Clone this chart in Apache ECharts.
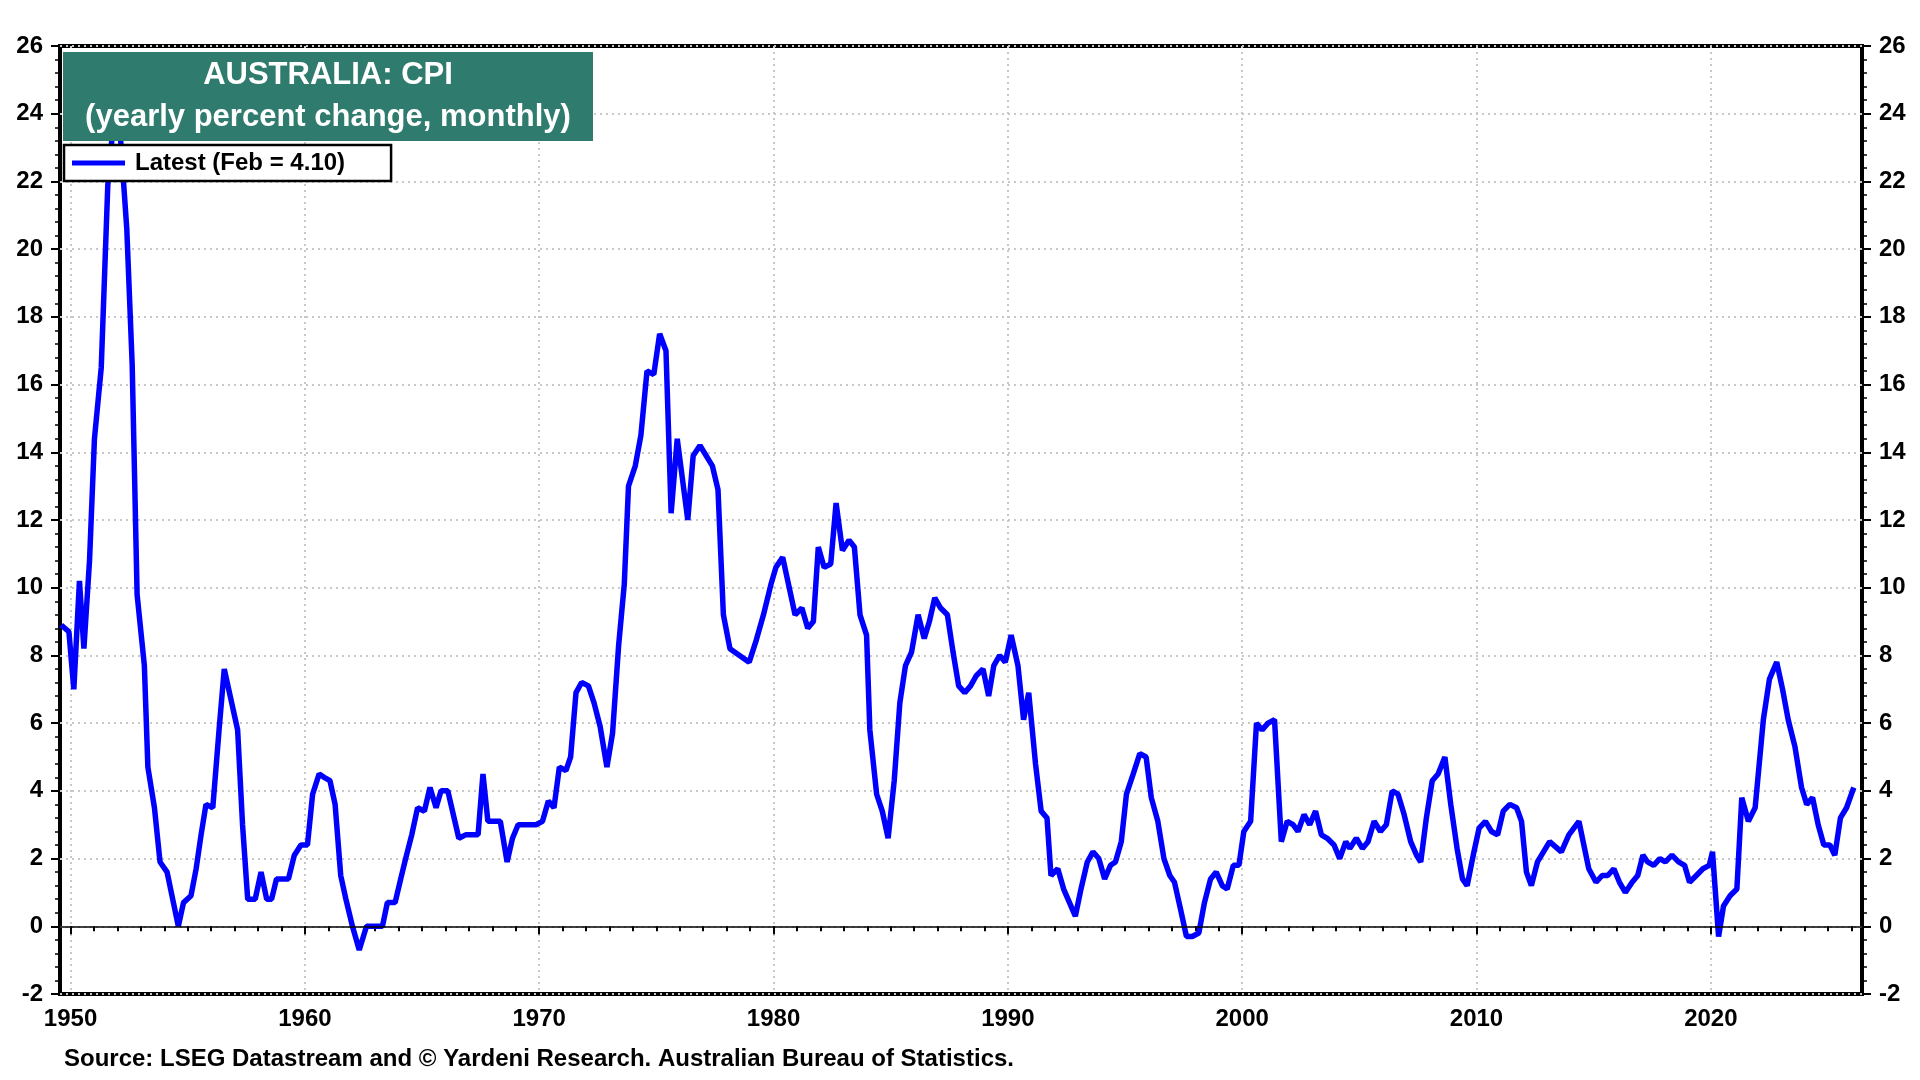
<!DOCTYPE html>
<html>
<head>
<meta charset="utf-8">
<title>Australia CPI</title>
<script src="https://cdn.jsdelivr.net/npm/echarts@6/dist/echarts.min.js"></script>
<style>
	html, body { margin: 0; padding: 0; background: #fff; }
	#chart { width: 1920px; height: 1080px; }
</style>
</head>
<body>
<div id="chart"></div>
<script>
// CPI, yearly percent change
var years = [
	1949.60, 1949.93, 1950.14, 1950.38, 1950.57, 1950.81, 1951.02, 1951.31, 1951.59, 1951.85,
	1952.10, 1952.40, 1952.63, 1952.84, 1953.15, 1953.30, 1953.58, 1953.82, 1954.12, 1954.36,
	1954.60, 1954.82, 1955.14, 1955.36, 1955.57, 1955.78, 1956.07, 1956.35, 1956.56, 1957.13,
	1957.34, 1957.56, 1957.88, 1958.13, 1958.37, 1958.58, 1958.79, 1959.30, 1959.55, 1959.83,
	1960.11, 1960.33, 1960.61, 1960.82, 1961.07, 1961.29, 1961.53, 1961.75, 1962.03, 1962.32,
	1962.63, 1963.31, 1963.52, 1963.85, 1964.09, 1964.30, 1964.56, 1964.81, 1965.10, 1965.34,
	1965.60, 1965.81, 1966.10, 1966.57, 1966.86, 1967.39, 1967.60, 1967.81, 1968.34, 1968.63,
	1968.86, 1969.10, 1969.86, 1970.14, 1970.39, 1970.63, 1970.86, 1971.14, 1971.34, 1971.57,
	1971.81, 1972.10, 1972.34, 1972.60, 1972.89, 1973.13, 1973.39, 1973.63, 1973.81, 1974.10,
	1974.34, 1974.60, 1974.89, 1975.14, 1975.41, 1975.63, 1975.89, 1976.34, 1976.57, 1976.86,
	1977.39, 1977.63, 1977.86, 1978.14, 1978.96, 1979.24, 1979.57, 1979.89, 1980.10, 1980.39,
	1980.92, 1981.21, 1981.46, 1981.70, 1981.91, 1982.16, 1982.44, 1982.67, 1982.94, 1983.22,
	1983.45, 1983.69, 1983.97, 1984.11, 1984.40, 1984.64, 1984.89, 1985.15, 1985.39, 1985.63,
	1985.89, 1986.17, 1986.43, 1986.65, 1986.88, 1987.13, 1987.42, 1987.66, 1987.90, 1988.16,
	1988.41, 1988.65, 1988.94, 1989.18, 1989.40, 1989.65, 1989.89, 1990.14, 1990.43, 1990.67,
	1990.89, 1991.18, 1991.42, 1991.67, 1991.84, 1992.13, 1992.38, 1992.88, 1993.12, 1993.39,
	1993.63, 1993.88, 1994.13, 1994.38, 1994.59, 1994.84, 1995.06, 1995.35, 1995.63, 1995.90,
	1996.12, 1996.40, 1996.66, 1996.91, 1997.11, 1997.37, 1997.62, 1997.87, 1998.15, 1998.39,
	1998.65, 1998.89, 1999.15, 1999.36, 1999.62, 1999.86, 2000.07, 2000.36, 2000.61, 2000.85,
	2001.10, 2001.38, 2001.67, 2001.92, 2002.17, 2002.38, 2002.64, 2002.88, 2003.13, 2003.38,
	2003.63, 2003.92, 2004.16, 2004.42, 2004.59, 2004.87, 2005.13, 2005.37, 2005.63, 2005.90,
	2006.15, 2006.40, 2006.65, 2006.91, 2007.19, 2007.44, 2007.62, 2007.86, 2008.11, 2008.36,
	2008.65, 2008.90, 2009.17, 2009.40, 2009.60, 2009.86, 2010.11, 2010.38, 2010.64, 2010.90,
	2011.14, 2011.42, 2011.71, 2011.92, 2012.13, 2012.34, 2012.60, 2013.12, 2013.62, 2013.94,
	2014.37, 2014.79, 2015.10, 2015.36, 2015.60, 2015.86, 2016.10, 2016.35, 2016.64, 2016.88,
	2017.10, 2017.30, 2017.56, 2017.82, 2018.06, 2018.34, 2018.62, 2018.88, 2019.09, 2019.38,
	2019.66, 2019.93, 2020.07, 2020.33, 2020.54, 2020.82, 2021.11, 2021.32, 2021.60, 2021.89,
	2022.24, 2022.50, 2022.81, 2023.06, 2023.30, 2023.59, 2023.87, 2024.09, 2024.34, 2024.58,
	2024.82, 2025.08, 2025.29, 2025.53, 2025.79, 2026.10
];
var cpi = [
	8.9, 8.7, 7.0, 10.2, 8.2, 10.8, 14.4, 16.5, 21.9, 23.9,
	23.6, 20.6, 16.6, 9.8, 7.7, 4.7, 3.5, 1.9, 1.6, 0.8,
	0.0, 0.7, 0.9, 1.7, 2.7, 3.6, 3.5, 5.9, 7.6, 5.8,
	3.0, 0.8, 0.8, 1.6, 0.8, 0.8, 1.4, 1.4, 2.1, 2.4,
	2.4, 3.9, 4.5, 4.4, 4.3, 3.6, 1.5, 0.8, 0.0, -0.7,
	0.0, 0.0, 0.7, 0.7, 1.4, 2.0, 2.7, 3.5, 3.4, 4.1,
	3.5, 4.0, 4.0, 2.6, 2.7, 2.7, 4.5, 3.1, 3.1, 1.9,
	2.6, 3.0, 3.0, 3.1, 3.7, 3.5, 4.7, 4.6, 5.0, 6.9,
	7.2, 7.1, 6.6, 5.9, 4.7, 5.7, 8.3, 10.1, 13.0, 13.6,
	14.5, 16.4, 16.3, 17.5, 17.0, 12.2, 14.4, 12.0, 13.9, 14.2,
	13.6, 12.9, 9.2, 8.2, 7.8, 8.4, 9.2, 10.1, 10.6, 10.9,
	9.2, 9.4, 8.8, 9.0, 11.2, 10.6, 10.7, 12.5, 11.1, 11.4,
	11.2, 9.2, 8.6, 5.8, 3.9, 3.4, 2.6, 4.3, 6.6, 7.7,
	8.1, 9.2, 8.5, 9.0, 9.7, 9.4, 9.2, 8.1, 7.1, 6.9,
	7.1, 7.4, 7.6, 6.8, 7.7, 8.0, 7.8, 8.6, 7.7, 6.1,
	6.9, 4.8, 3.4, 3.2, 1.5, 1.7, 1.1, 0.3, 1.1, 1.9,
	2.2, 2.0, 1.4, 1.8, 1.9, 2.5, 3.9, 4.5, 5.1, 5.0,
	3.8, 3.1, 2.0, 1.5, 1.3, 0.5, -0.3, -0.3, -0.2, 0.7,
	1.4, 1.6, 1.2, 1.1, 1.8, 1.8, 2.8, 3.1, 6.0, 5.8,
	6.0, 6.1, 2.5, 3.1, 3.0, 2.8, 3.3, 3.0, 3.4, 2.7,
	2.6, 2.4, 2.0, 2.5, 2.3, 2.6, 2.3, 2.5, 3.1, 2.8,
	3.0, 4.0, 3.9, 3.3, 2.5, 2.1, 1.9, 3.2, 4.3, 4.5,
	5.0, 3.6, 2.3, 1.4, 1.2, 2.1, 2.9, 3.1, 2.8, 2.7,
	3.4, 3.6, 3.5, 3.1, 1.6, 1.2, 1.9, 2.5, 2.2, 2.7,
	3.1, 1.7, 1.3, 1.5, 1.5, 1.7, 1.3, 1.0, 1.3, 1.5,
	2.1, 1.9, 1.8, 2.0, 1.9, 2.1, 1.9, 1.8, 1.3, 1.5,
	1.7, 1.8, 2.2, -0.3, 0.6, 0.9, 1.1, 3.8, 3.1, 3.5,
	6.1, 7.3, 7.8, 7.0, 6.1, 5.3, 4.1, 3.6, 3.8, 3.0,
	2.4, 2.4, 2.1, 3.2, 3.5, 4.1
];
var decadeLabels = [1950, 1960, 1970, 1980, 1990, 2000, 2010, 2020];
var seriesName = 'Latest (Feb = 4.10)';
var xMin = 1949.55;
var xMax = 2026.45;

var yearTicks = [];
for(var y = 1950; y <= 2026; y++) {
	yearTicks.push(y);
}

var font = '"Liberation Sans", Arial, sans-serif';

var myChart = echarts.init(document.getElementById('chart'));

var lineData = years.map(function(yr, i) {
	return [yr, cpi[i]];
});

var gridLine = {
	show: true,
	lineStyle: {
		color: '#c8c8c8',
		width: 2,
		type: [2, 4]
	}
};

var yLabel = {
	fontSize: 24,
	fontWeight: 'bold',
	color: '#000',
	fontFamily: font,
	margin: 17
};

var option = {
	backgroundColor: '#fff',
	animation: false,
	grid: {
		left: 60,
		right: 58,
		top: 46,
		bottom: 86,
		show: true,
		borderColor: '#000',
		borderWidth: 4,
		backgroundColor: 'transparent'
	},
	legend: {
		left: 64,
		top: 145,
		data: [{ name: seriesName, icon: 'rect' }],
		itemWidth: 53,
		itemHeight: 5,
		backgroundColor: '#fff',
		borderColor: '#000',
		borderWidth: 2.5,
		borderRadius: 0,
		padding: [6, 46, 6, 8],
		selectedMode: false,
		textStyle: {
			fontSize: 24,
			fontWeight: 'bold',
			color: '#000',
			fontFamily: font,
			padding: [0, 0, 0, 5]
		}
	},
	xAxis: [{
			type: 'value',
			position: 'bottom',
			min: xMin,
			max: xMax,
			axisLine: { show: false },
			axisTick: {
				show: true,
				length: 8,
				lineStyle: { color: '#000', width: 2 },
				customValues: decadeLabels
			},
			axisLabel: {
				fontSize: 24,
				fontWeight: 'bold',
				color: '#000',
				fontFamily: font,
				margin: 13,
				customValues: decadeLabels,
				formatter: function(v) {
					return String(Math.round(v));
				}
			},
			splitLine: gridLine
		},
		{
			type: 'value',
			position: 'bottom',
			min: xMin,
			max: xMax,
			axisLine: { show: false },
			axisTick: {
				show: true,
				length: 5,
				lineStyle: { color: '#000', width: 2 },
				customValues: yearTicks
			},
			axisLabel: { show: false },
			splitLine: { show: false }
		}
	],
	yAxis: [{
			type: 'value',
			position: 'left',
			min: -2,
			max: 26,
			interval: 2,
			axisLine: { show: false },
			axisTick: { show: true, length: 9, lineStyle: { color: '#000', width: 2 } },
			minorTick: { show: true, splitNumber: 5, length: 5, lineStyle: { color: '#000', width: 1.5 } },
			axisLabel: yLabel,
			splitLine: gridLine
		},
		{
			type: 'value',
			position: 'right',
			min: -2,
			max: 26,
			interval: 2,
			axisLine: { show: false },
			axisTick: { show: true, length: 9, lineStyle: { color: '#000', width: 2 } },
			minorTick: { show: true, splitNumber: 5, length: 5, lineStyle: { color: '#000', width: 1.5 } },
			axisLabel: yLabel,
			splitLine: { show: false }
		}
	],
	series: [{
			name: 'zero',
			type: 'line',
			data: [],
			z: 1,
			silent: true,
			markLine: {
				silent: true,
				symbol: 'none',
				label: { show: false },
				lineStyle: { color: '#000', width: 1.5, type: 'solid' },
				data: [{ yAxis: 0 }]
			}
		},
		{
			name: seriesName,
			type: 'line',
			data: lineData,
			showSymbol: false,
			symbol: 'none',
			z: 3,
			color: '#0000ff',
			lineStyle: { color: '#0000ff', width: 5.5 }
		}
	],
	graphic: [{
			type: 'rect',
			z: 100,
			shape: { x: 63, y: 52, width: 530, height: 89 },
			style: { fill: '#2f7b6d' }
		},
		{
			type: 'text',
			z: 101,
			x: 328,
			y: 75,
			style: {
				text: 'AUSTRALIA: CPI',
				fill: '#fff',
				font: 'bold 31px ' + font,
				align: 'center',
				verticalAlign: 'middle'
			}
		},
		{
			type: 'text',
			z: 101,
			x: 328,
			y: 117,
			style: {
				text: '(yearly percent change, monthly)',
				fill: '#fff',
				font: 'bold 31px ' + font,
				align: 'center',
				verticalAlign: 'middle'
			}
		},
		{
			type: 'text',
			z: 101,
			x: 64,
			y: 1059,
			style: {
				text: 'Source: LSEG Datastream and \u00a9 Yardeni Research. Australian Bureau of Statistics.',
				fill: '#000',
				font: 'bold 24px ' + font,
				align: 'left',
				verticalAlign: 'middle'
			}
		}
	]
};

myChart.setOption(option);
</script>
</body>
</html>
